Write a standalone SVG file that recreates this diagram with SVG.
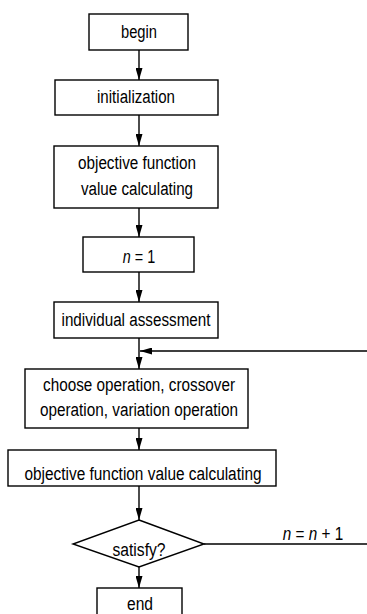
<svg xmlns="http://www.w3.org/2000/svg" width="367" height="614" viewBox="0 0 367 614">
<style>
.box{fill:#fff;stroke:#000;stroke-width:1.4}
.t{font-family:"Liberation Sans",Arial,sans-serif;font-size:18px;fill:#000;text-anchor:middle}
.c{fill:none;stroke:#000;stroke-width:1.4}
</style>
<defs>
<marker id="ah" markerWidth="12" markerHeight="7" refX="12" refY="3.5" orient="auto" markerUnits="userSpaceOnUse">
<path d="M0,0 L12,3.5 L0,7 Z" fill="#000"/>
</marker>
</defs>
<rect width="367" height="614" fill="#fff"/>
<g id="connectors">
<line class="c" x1="139" y1="50" x2="139" y2="80" marker-end="url(#ah)"/>
<line class="c" x1="139" y1="115" x2="139" y2="146" marker-end="url(#ah)"/>
<line class="c" x1="139" y1="208" x2="139" y2="237" marker-end="url(#ah)"/>
<line class="c" x1="139" y1="272" x2="139" y2="302" marker-end="url(#ah)"/>
<line class="c" x1="139" y1="338" x2="139" y2="369" marker-end="url(#ah)"/>
<line class="c" x1="139" y1="428" x2="139" y2="450" marker-end="url(#ah)"/>
<line class="c" x1="139" y1="486" x2="139" y2="520" marker-end="url(#ah)"/>
<line class="c" x1="139" y1="567" x2="139" y2="588" marker-end="url(#ah)"/>
<path class="c" d="M204,544 H370 V351 H140" marker-end="url(#ah)"/>
<text class="t" transform="translate(313,540) scale(0.85,1)"><tspan font-style="italic">n</tspan> = <tspan font-style="italic">n</tspan> + 1</text>
</g>
<g id="begin"><rect class="box" x="89" y="14" width="99" height="36"/><text class="t" x="139" y="38" textLength="36" lengthAdjust="spacingAndGlyphs">begin</text></g>
<g id="init"><rect class="box" x="55" y="80" width="163" height="35"/><text class="t" x="136" y="103" textLength="78" lengthAdjust="spacingAndGlyphs">initialization</text></g>
<g id="objfunc1"><rect class="box" x="54" y="146" width="164" height="62"/><text class="t" x="137" y="169" textLength="118" lengthAdjust="spacingAndGlyphs">objective function</text><text class="t" x="137" y="195" textLength="112" lengthAdjust="spacingAndGlyphs">value calculating</text></g>
<g id="n1"><rect class="box" x="83" y="237" width="111" height="35"/><text class="t" transform="translate(139,263) scale(0.8,1)"><tspan font-style="italic">n</tspan> = 1</text></g>
<g id="assess"><rect class="box" x="54" y="302" width="164" height="36"/><text class="t" x="136" y="326" textLength="149" lengthAdjust="spacingAndGlyphs">individual assessment</text></g>
<g id="ops"><rect class="box" x="25" y="369" width="223" height="59"/><text class="t" x="139" y="391" textLength="192" lengthAdjust="spacingAndGlyphs">choose operation, crossover</text><text class="t" x="139" y="416" textLength="198" lengthAdjust="spacingAndGlyphs">operation, variation operation</text></g>
<g id="objfunc2"><rect class="box" x="8" y="450" width="268" height="36"/><text class="t" x="143" y="480" textLength="237" lengthAdjust="spacingAndGlyphs">objective function value calculating</text></g>
<g id="satisfy"><polygon class="box" points="139,520 204,544 139,567 73,544"/><text class="t" x="139" y="556" textLength="53" lengthAdjust="spacingAndGlyphs">satisfy?</text></g>
<g id="end"><rect class="box" x="97" y="588" width="85" height="40"/><text class="t" x="140" y="610" textLength="26" lengthAdjust="spacingAndGlyphs">end</text></g>
</svg>
